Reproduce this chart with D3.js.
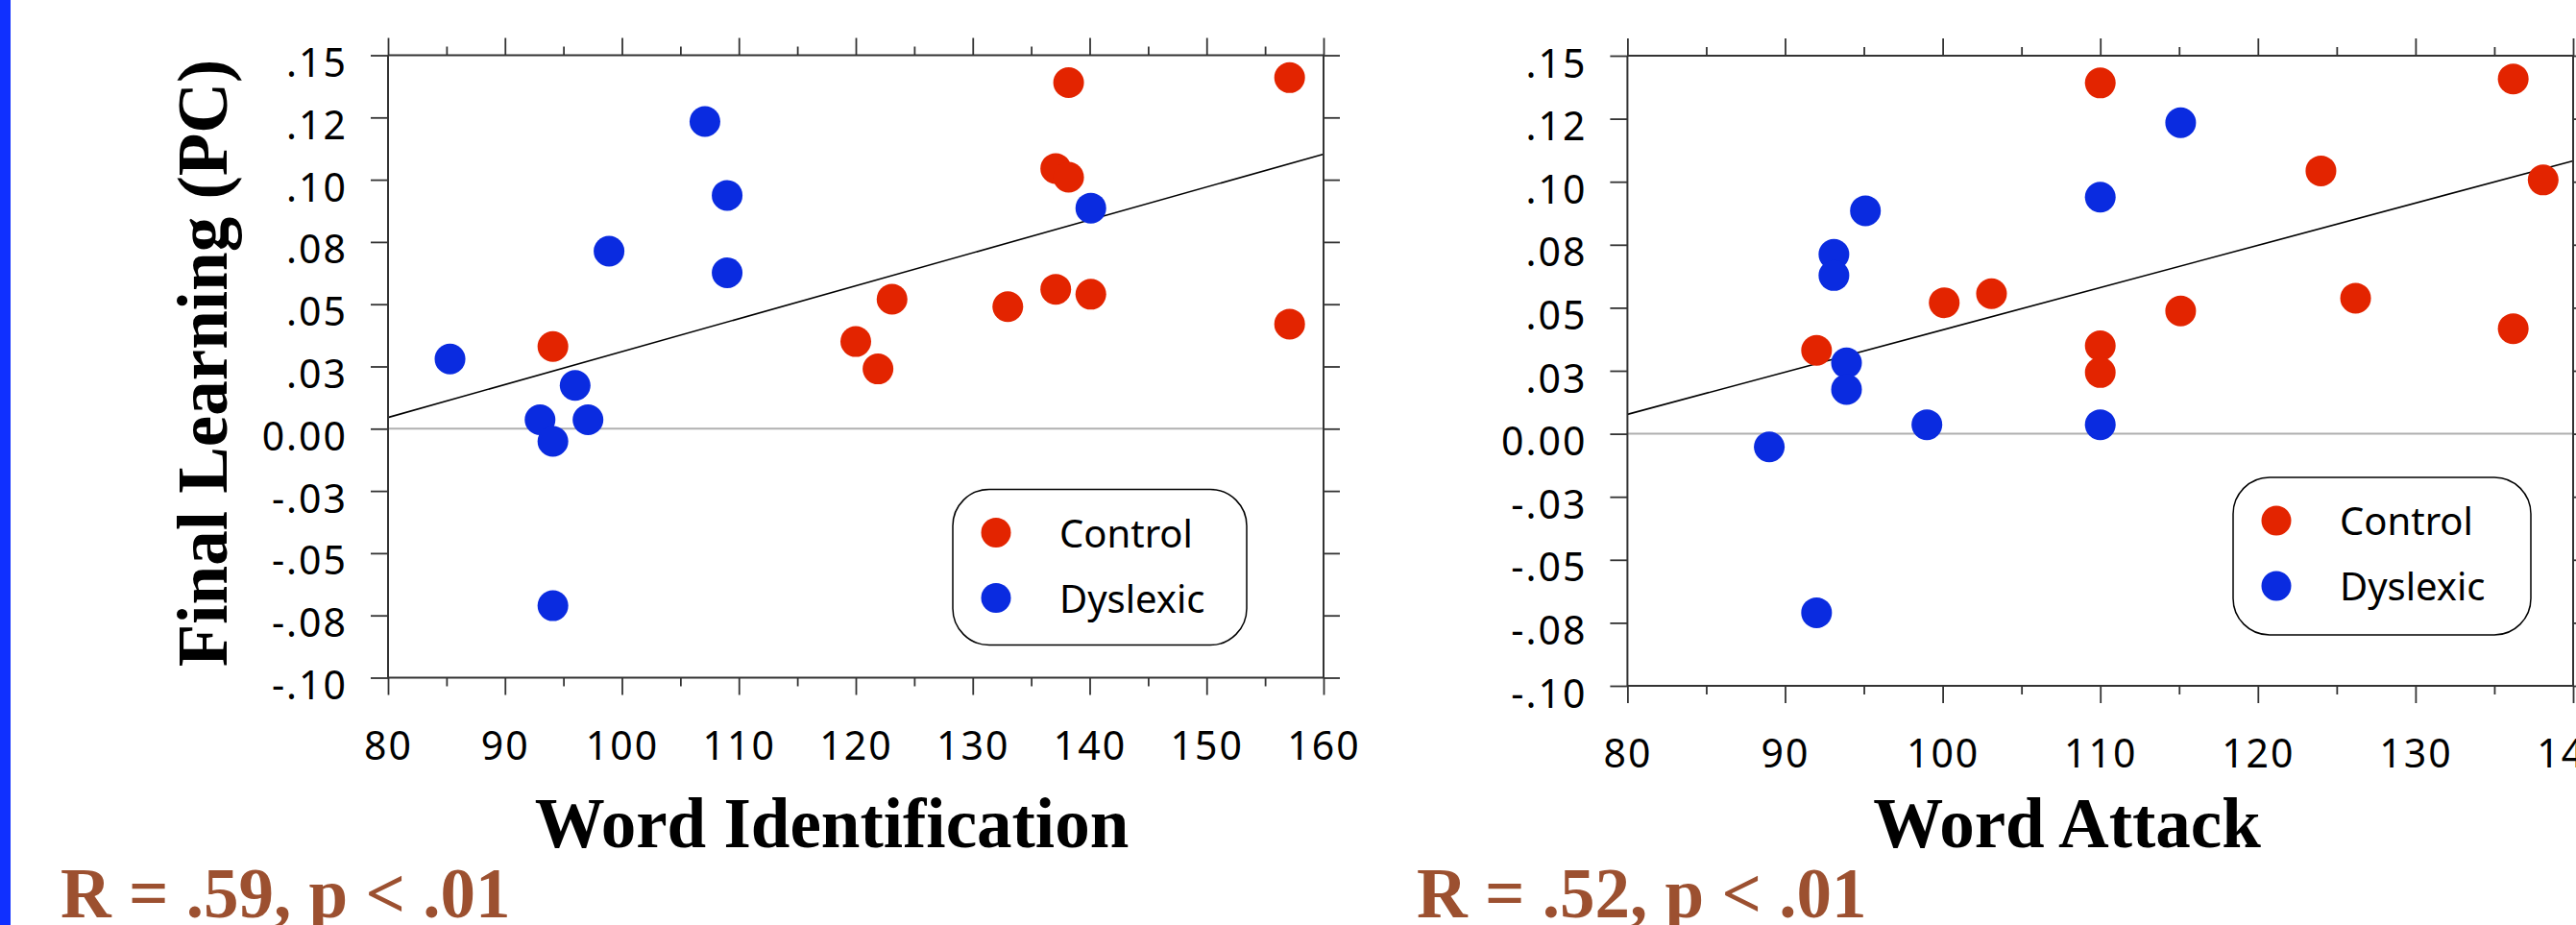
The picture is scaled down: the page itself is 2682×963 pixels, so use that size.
<!DOCTYPE html>
<html><head><meta charset="utf-8">
<script src="https://cdn.jsdelivr.net/npm/d3@7"></script>
<style>
html,body{margin:0;padding:0;background:#fff;overflow:hidden;}
svg{display:block;}
</style></head><body>
<svg id="chart" width="2682" height="963"></svg>
<script>
// ---------- data ----------
const yTickValues = [0.15, 0.125, 0.10, 0.075, 0.05, 0.025, 0, -0.025, -0.05, -0.075, -0.10];
const yTickLabels = [".15", ".12", ".10", ".08", ".05", ".03", "0.00", "-.03", "-.05", "-.08", "-.10"];
const groups = ["Control", "Dyslexic"];

// Panel 1: Word Identification
const wiTicks = [80, 90, 100, 110, 120, 130, 140, 150, 160];
const wiMinorTicks = [85, 95, 105, 115, 125, 135, 145, 155];
const wiControlX = [94.1, 120.0, 121.9, 123.1, 133.0, 137.1, 140.1, 137.1, 138.2, 138.2, 157.1, 157.1];
const wiControlY = [0.033, 0.035, 0.024, 0.052, 0.049, 0.056, 0.054, 0.1045, 0.101, 0.139, 0.141, 0.042];
const wiDyslexicX = [85.3, 107.1, 109.0, 98.9, 109.0, 140.1, 96.0, 93.0, 97.1, 94.1, 94.1];
const wiDyslexicY = [0.028, 0.1234, 0.0937, 0.0713, 0.0626, 0.0886, 0.0174, 0.0036, 0.0036, -0.0051, -0.0711];
const wiFitX = [80, 160];
const wiFitY = [0.0045, 0.1103];

// Panel 2: Word Attack
const waTicks = [80, 90, 100, 110, 120, 130, 140];
const waMinorTicks = [85, 95, 105, 115, 125, 135];
const waControlX = [92.0, 100.1, 103.1, 110.0, 110.0, 110.0, 115.1, 124.0, 126.2, 136.2, 136.2, 138.1];
const waControlY = [0.0331, 0.052, 0.0556, 0.1392, 0.0349, 0.0243, 0.0487, 0.1043, 0.0538, 0.1408, 0.0417, 0.1007];
const waDyslexicX = [89.0, 92.0, 93.1, 93.1, 95.1, 93.9, 93.9, 99.0, 110.0, 110.0, 115.1];
const waDyslexicY = [-0.0052, -0.071, 0.0712, 0.0628, 0.0885, 0.0281, 0.0176, 0.0036, 0.0036, 0.0939, 0.1234];
const waFitX = [80, 140];
const waFitY = [0.0077, 0.1083];

const statLabels = ["R = .59, p < .01", "R = .52, p < .01"];
const xTitles = ["Word Identification", "Word Attack"];
const yTitle = "Final Learning (PC)";

// ---------- style ----------
const RED = "#e32400", BLUE = "#0a2be0", BROWN = "#9c5030";
const colors = {Control: RED, Dyslexic: BLUE};
const tickFont = "'Noto Sans', 'Open Sans', sans-serif";
const serif = "'Liberation Serif', 'Times New Roman', serif";

const svg = d3.select("#chart");
svg.append("rect").attr("x", 0).attr("y", 0).attr("width", 2682).attr("height", 963).attr("fill", "#fff");
svg.append("rect").attr("x", 0).attr("y", 0).attr("width", 11).attr("height", 963).attr("fill", "#1030ff");

function panel(cfg) {
  const x = d3.scaleLinear().domain(cfg.domain).range([cfg.left, cfg.right]);
  const y = d3.scaleLinear().domain([-0.10, 0.15]).range([cfg.bottom, cfg.top]);
  const g = svg.append("g");

  // zero line
  g.append("line").attr("x1", cfg.left).attr("x2", cfg.right)
    .attr("y1", y(0)).attr("y2", y(0)).attr("stroke", "#b0b0b0").attr("stroke-width", 2);

  // fit line
  g.append("line")
    .attr("x1", x(cfg.fitX[0])).attr("y1", y(cfg.fitY[0]))
    .attr("x2", x(cfg.fitX[1])).attr("y2", y(cfg.fitY[1]))
    .attr("stroke", "#000").attr("stroke-width", 1.6);

  // dots
  const series = [
    {name: "Control", xs: cfg.controlX, ys: cfg.controlY},
    {name: "Dyslexic", xs: cfg.dyslexicX, ys: cfg.dyslexicY}
  ];
  series.forEach(s => {
    g.append("g").selectAll("circle").data(s.xs.map((v, i) => [v, s.ys[i]])).join("circle")
      .attr("cx", d => x(d[0])).attr("cy", d => y(d[1])).attr("r", 16)
      .attr("fill", colors[s.name]);
  });

  // axes
  const styleAxis = sel => {
    sel.select(".domain").remove();
    sel.selectAll("line").attr("stroke", "#333").attr("stroke-width", 1.8);
    sel.selectAll("text").attr("font-family", tickFont).attr("font-size", 41)
      .attr("letter-spacing", "2px").attr("fill", "#000");
  };
  // bottom major
  g.append("g").attr("transform", `translate(0,${cfg.bottom})`)
    .call(d3.axisBottom(x).tickValues(cfg.ticks).tickFormat(d3.format("d")).tickSize(18).tickSizeOuter(0).tickPadding(38))
    .call(styleAxis);
  g.append("g").attr("transform", `translate(0,${cfg.bottom})`)
    .call(d3.axisBottom(x).tickValues(cfg.minor).tickFormat("").tickSize(9).tickSizeOuter(0))
    .call(styleAxis);
  // top
  g.append("g").attr("transform", `translate(0,${cfg.top})`)
    .call(d3.axisTop(x).tickValues(cfg.ticks).tickFormat("").tickSize(18).tickSizeOuter(0))
    .call(styleAxis);
  g.append("g").attr("transform", `translate(0,${cfg.top})`)
    .call(d3.axisTop(x).tickValues(cfg.minor).tickFormat("").tickSize(9).tickSizeOuter(0))
    .call(styleAxis);
  // left
  const ly = g.append("g").attr("transform", `translate(${cfg.left},0)`)
    .call(d3.axisLeft(y).tickValues(yTickValues).tickFormat((d, i) => yTickLabels[i]).tickSize(18).tickSizeOuter(0).tickPadding(24))
    .call(styleAxis);
  ly.selectAll("text").attr("dy", 22);
  // right
  g.append("g").attr("transform", `translate(${cfg.right},0)`)
    .call(d3.axisRight(y).tickValues(yTickValues).tickFormat("").tickSize(17).tickSizeOuter(0))
    .call(styleAxis);

  // frame
  const frame = [[cfg.left, cfg.top, cfg.right, cfg.top], [cfg.left, cfg.bottom, cfg.right, cfg.bottom],
                 [cfg.left, cfg.top, cfg.left, cfg.bottom], [cfg.right, cfg.top, cfg.right, cfg.bottom]];
  g.append("g").selectAll("line").data(frame).join("line")
    .attr("x1", d => d[0]).attr("y1", d => d[1]).attr("x2", d => d[2]).attr("y2", d => d[3])
    .attr("stroke", "#333").attr("stroke-width", 2);

  // legend
  const lg = g.append("g").attr("transform", `translate(${cfg.legX},${cfg.legY})`);
  lg.append("rect").attr("x", 0).attr("y", 0).attr("width", cfg.legW).attr("height", cfg.legH)
    .attr("rx", 38).attr("ry", 38).attr("fill", "#fff").attr("stroke", "#000").attr("stroke-width", 1.5);
  groups.forEach((name, i) => {
    const cy = 45 + i * 68;
    lg.append("circle").attr("cx", 45).attr("cy", cy).attr("r", 15.5).attr("fill", colors[name]);
    lg.append("text").attr("x", 111).attr("y", cy + 15).text(name)
      .attr("font-family", tickFont).attr("font-size", 40).attr("fill", "#000");
  });

  // x title
  g.append("text").attr("x", cfg.xTitleX).attr("y", 882).attr("text-anchor", "middle")
    .attr("font-family", serif).attr("font-weight", "bold").attr("font-size", 73)
    .text(cfg.xTitle);
  // stat
  g.append("text").attr("x", cfg.statX).attr("y", 955)
    .attr("font-family", serif).attr("font-weight", "bold").attr("font-size", 73)
    .attr("fill", BROWN).text(cfg.stat);
}

panel({
  domain: [80, 160], left: 404, right: 1378, top: 57.5, bottom: 705.5,
  ticks: wiTicks, minor: wiMinorTicks,
  controlX: wiControlX, controlY: wiControlY, dyslexicX: wiDyslexicX, dyslexicY: wiDyslexicY,
  fitX: wiFitX, fitY: wiFitY,
  legX: 992, legY: 509.5, legW: 306, legH: 162,
  xTitle: xTitles[0], xTitleX: 866, stat: statLabels[0], statX: 63
});
panel({
  domain: [80, 140], left: 1694.4, right: 2679, top: 58, bottom: 714,
  ticks: waTicks, minor: waMinorTicks,
  controlX: waControlX, controlY: waControlY, dyslexicX: waDyslexicX, dyslexicY: waDyslexicY,
  fitX: waFitX, fitY: waFitY,
  legX: 2325, legY: 497, legW: 310, legH: 164,
  xTitle: xTitles[1], xTitleX: 2152, stat: statLabels[1], statX: 1475
});

// y title (left panel only)
svg.append("text").attr("transform", "translate(236,378) rotate(-90)")
  .attr("text-anchor", "middle").attr("font-family", serif).attr("font-weight", "bold")
  .attr("font-size", 73).text(yTitle);
</script>
</body></html>
